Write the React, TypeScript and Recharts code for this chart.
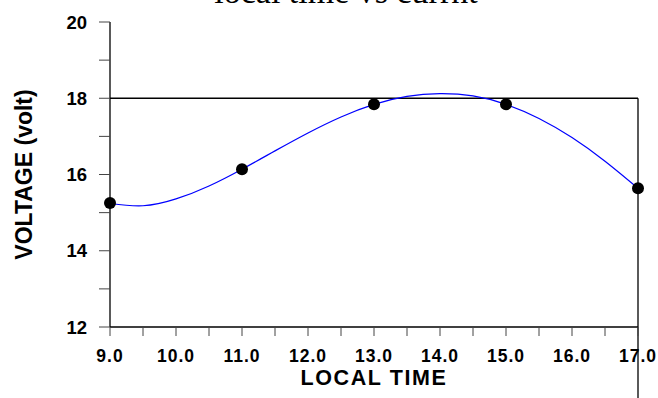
import React from 'react';
import {
  ComposedChart,
  Line,
  Scatter,
  XAxis,
  YAxis,
  ReferenceLine,
  Label,
  Customized,
} from 'recharts';

// Measured points
const timeHours = [9, 11, 13, 15, 17];
const voltage = [15.25, 16.14, 17.84, 17.84, 15.64];

// Fitted curve, every half hour
const fitHours = [9, 9.5, 10, 10.5, 11, 11.5, 12, 12.5, 13, 13.5, 14, 14.5, 15, 15.5, 16, 16.5, 17];
const fitVoltage = [15.24, 15.18, 15.36, 15.7, 16.14, 16.62, 17.09, 17.51, 17.84, 18.05, 18.12, 18.06, 17.84, 17.47, 16.97, 16.35, 15.64];

// Axis ticks (major + minor)
const xTicks = [9, 9.5, 10, 10.5, 11, 11.5, 12, 12.5, 13, 13.5, 14, 14.5, 15, 15.5, 16, 16.5, 17];
const yTicks = [12, 13, 14, 15, 16, 17, 18, 19, 20];

const title = 'local time vs currnt';
const xTitle = 'LOCAL TIME';
const yTitle = 'VOLTAGE (volt)';

const points = timeHours.map((x, i) => ({ x, v: voltage[i] }));
const fit = fitHours.map((x, i) => ({ x, f: fitVoltage[i] }));

const SANS = "'Liberation Sans', Arial, sans-serif";

const renderXTitle = (props: any) => {
  const vb = props.viewBox || {};
  return (
    <text
      x={vb.x + vb.width / 2}
      y={vb.y + 58}
      textAnchor="middle"
      fontFamily={SANS}
      fontWeight="bold"
      fontSize={21.5}
      letterSpacing={1.6}
      fill="#000"
    >
      {xTitle}
    </text>
  );
};

const renderYTitle = (props: any) => {
  const vb = props.viewBox || {};
  const cx = 31.5;
  const cy = vb.y + vb.height / 2;
  return (
    <text
      x={cx}
      y={cy}
      transform={`rotate(-90, ${cx}, ${cy})`}
      textAnchor="middle"
      fontFamily={SANS}
      fontWeight="bold"
      fontSize={23}
      fill="#000"
    >
      {yTitle}
    </text>
  );
};

const Title = () => (
  <text
    x={346}
    y={3}
    textAnchor="middle"
    fontFamily="'Liberation Serif', 'Times New Roman', serif"
    fontSize={34}
    fill="#000"
  >
    {title}
  </text>
);

const Dot = (props: any) => <circle cx={props.cx} cy={props.cy} r={6} fill="#000" />;

export default function App() {
  return (
    <div style={{ position: 'absolute', left: 0, top: 0, width: 658, height: 398, background: '#fff' }}>
      <ComposedChart
        width={658}
        height={398}
        margin={{ top: 22, right: 20, bottom: 11, left: 10 }}
        style={{ overflow: 'hidden' }}
      >
        <XAxis
          dataKey="x"
          type="number"
          domain={[9, 17]}
          ticks={xTicks}
          interval={0}
          height={60}
          tickSize={9}
          tickMargin={14}
          axisLine={{ stroke: '#000', strokeWidth: 1.3 }}
          tickLine={{ stroke: '#444', strokeWidth: 1 }}
          tickFormatter={(v: number) => (Number.isInteger(v) ? v.toFixed(1) : '')}
          tick={{ fill: '#000', fontFamily: SANS, fontWeight: 'bold', fontSize: 17.5, letterSpacing: 1 }}
        >
          <Label content={renderXTitle} />
        </XAxis>
        <YAxis
          type="number"
          domain={[12, 20]}
          ticks={yTicks}
          interval={0}
          width={100}
          tickSize={11}
          tickMargin={12}
          axisLine={{ stroke: '#000', strokeWidth: 1.3 }}
          tickLine={{ stroke: '#444', strokeWidth: 1 }}
          tickFormatter={(v: number) => (v % 2 === 0 ? String(v) : '')}
          tick={{ fill: '#000', fontFamily: SANS, fontWeight: 'bold', fontSize: 18.5 }}
        >
          <Label content={renderYTitle} />
        </YAxis>
        <ReferenceLine y={18} stroke="#000" strokeWidth={1.3} />
        <ReferenceLine
          segment={[{ x: 17, y: 18 }, { x: 17, y: 10 }]}
          stroke="#000"
          strokeWidth={1.3}
          ifOverflow="visible"
        />
        <Line
          data={fit}
          dataKey="f"
          type="natural"
          stroke="#0000ff"
          strokeWidth={1.2}
          dot={false}
          activeDot={false}
          isAnimationActive={false}
        />
        <Scatter data={points} dataKey="v" fill="#000" shape={Dot} isAnimationActive={false} />
        <Customized component={Title} />
      </ComposedChart>
    </div>
  );
}
